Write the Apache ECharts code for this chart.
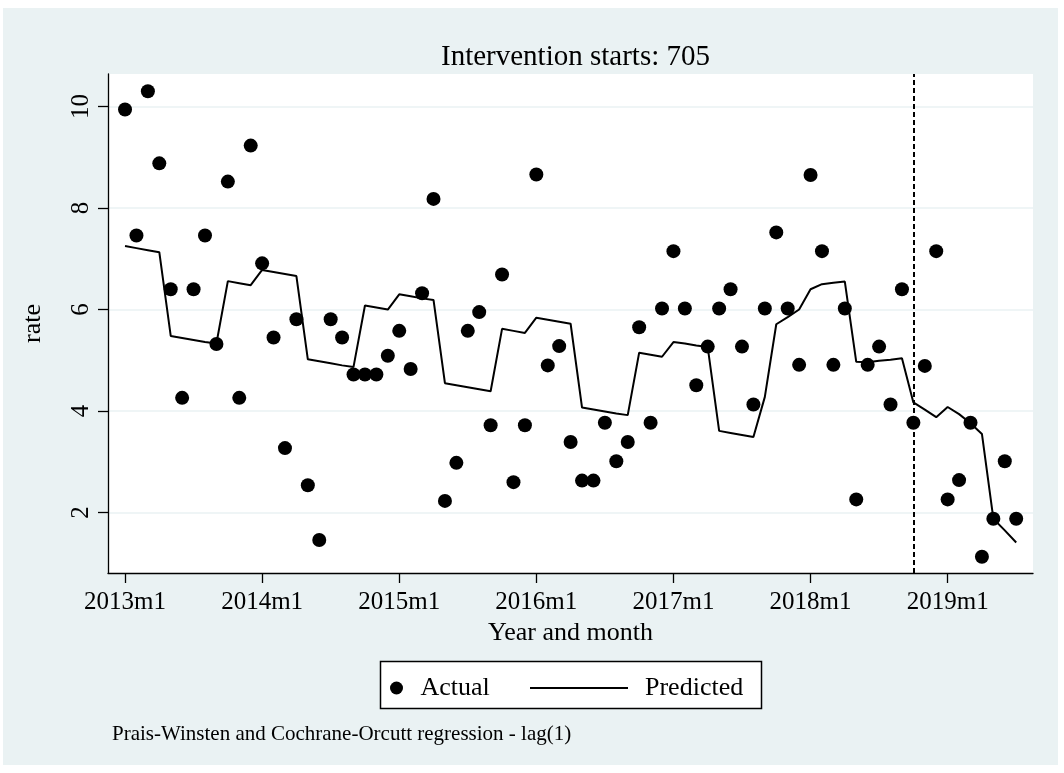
<!DOCTYPE html>
<html>
<head>
<meta charset="utf-8">
<script src="https://cdn.jsdelivr.net/npm/echarts@6/dist/echarts.min.js"></script>
<style>
html,body{margin:0;padding:0;background:#fff;}
#chart{width:1064px;height:773px;}
</style>
</head>
<body>
<div id="chart"></div>
<script>
// Stata monthly time codes (636 = 2013m1 ... 714 = 2019m7)
const periods = [636,637,638,639,640,641,642,643,644,645,646,647,
  648,649,650,651,652,653,654,655,656,657,658,659,
  660,661,662,663,664,665,666,667,668,669,670,671,
  672,673,674,675,676,677,678,679,680,681,682,683,
  684,685,686,687,688,689,690,691,692,693,694,695,
  696,697,698,699,700,701,702,703,704,705,706,707,
  708,709,710,711,712,713,714];

const actual = [9.94,7.46,10.30,8.88,6.40,4.26,6.40,7.46,5.32,8.52,4.26,9.23,
  6.91,5.45,3.27,5.81,2.54,1.46,5.81,5.45,4.72,4.72,4.72,5.09,
  5.58,4.83,6.32,8.18,2.23,2.98,5.58,5.95,3.72,6.69,2.60,3.72,
  8.66,4.90,5.28,3.39,2.63,2.63,3.77,3.01,3.39,5.65,3.77,6.02,
  7.15,6.02,4.51,5.27,6.02,6.40,5.27,4.13,6.02,7.52,6.02,4.91,
  8.65,7.15,4.91,6.02,2.26,4.91,5.27,4.13,6.40,3.77,4.89,7.15,
  2.26,2.64,3.77,1.13,1.88,3.01,1.88];

const predicted = [7.25,7.21,7.17,7.13,5.48,5.44,5.40,5.36,5.33,6.56,6.52,6.48,
  6.78,6.74,6.70,6.66,5.02,4.98,4.94,4.90,4.87,6.08,6.04,6.00,
  6.30,6.26,6.22,6.19,4.55,4.51,4.47,4.43,4.39,5.62,5.58,5.54,
  5.84,5.80,5.76,5.72,4.07,4.03,3.99,3.95,3.92,5.15,5.11,5.07,
  5.36,5.33,5.29,5.26,3.61,3.57,3.53,3.49,4.28,5.71,5.85,6.00,
  6.40,6.50,6.53,6.55,4.97,4.96,4.99,5.01,5.04,4.17,4.03,3.88,
  4.08,3.94,3.76,3.55,1.88,1.65,1.41];

const xTickValues = [636,648,660,672,684,696,708];
const xTickLabels = ['2013m1','2014m1','2015m1','2016m1','2017m1','2018m1','2019m1'];
const yTickValues = [2,4,6,8,10];
const interventionPeriod = 705;

const SERIF = '"Liberation Serif","Times New Roman",Times,serif';
const BG = '#EAF2F3';

const chart = echarts.init(document.getElementById('chart'), null, {renderer:'canvas'});

const option = {
  animation: false,
  backgroundColor: '#ffffff',
  title: {
    text: 'Intervention starts: 705',
    left: 570.5, top: 38, textAlign: 'center',
    textStyle: {fontFamily: SERIF, fontSize: 29, fontWeight: 'normal', color: '#000'}
  },
  grid: {
    left: 108, right: 31, top: 74, bottom: 200,
    show: true, backgroundColor: '#ffffff', borderWidth: 0
  },
  xAxis: {
    type: 'value', min: 634.51, max: 715.47,
    name: 'Year and month', nameLocation: 'middle', nameGap: 44,
    nameTextStyle: {fontFamily: SERIF, fontSize: 26, color: '#000'},
    axisLine: {show: true, onZero: false, lineStyle: {color: '#000', width: 1.3}},
    axisTick: {show: true, customValues: xTickValues, length: 10, lineStyle: {color: '#000', width: 1.3}},
    axisLabel: {
      customValues: xTickValues, margin: 17,
      fontFamily: SERIF, fontSize: 25, color: '#000',
      formatter: v => { const i = xTickValues.indexOf(Math.round(v)); return i >= 0 ? xTickLabels[i] : ''; }
    },
    splitLine: {show: false}
  },
  yAxis: {
    type: 'value', min: 0.81, max: 10.64,
    name: 'rate', nameLocation: 'middle', nameGap: 62, nameRotate: 90,
    nameTextStyle: {fontFamily: SERIF, fontSize: 26, color: '#000'},
    axisLine: {show: true, onZero: false, lineStyle: {color: '#000', width: 1.3}},
    axisTick: {show: true, customValues: yTickValues, length: 10, lineStyle: {color: '#000', width: 1.3}},
    axisLabel: {
      customValues: yTickValues, margin: 14, rotate: 90,
      fontFamily: SERIF, fontSize: 25, color: '#000'
    },
    splitLine: {show: true, lineStyle: {color: BG, width: 1.6}}
  },
  legend: [
    {
      data: ['Actual'], left: 390, top: 675, padding: 0,
      itemWidth: 38, itemHeight: 13, icon: 'circle',
      itemStyle: {opacity: 1},
      textStyle: {fontFamily: SERIF, fontSize: 26, color: '#000'}
    },
    {
      data: [{name: 'Predicted', icon: 'rect'}], left: 530, top: 675, padding: 0,
      itemWidth: 98, itemHeight: 2,
      itemStyle: {color: '#000'},
      textStyle: {fontFamily: SERIF, fontSize: 26, color: '#000', padding: [0,0,0,12]}
    }
  ],
  graphic: [
    {type: 'rect', z: -100, silent: true, shape: {x: 3, y: 8, width: 1055, height: 757}, style: {fill: BG}},
    {type: 'rect', z: -1, silent: true, shape: {x: 380.5, y: 661.5, width: 381, height: 47}, style: {fill: '#fff', stroke: '#000', lineWidth: 1.5}},
    {type: 'text', silent: true, left: 112, top: 724,
      style: {text: 'Prais-Winsten and Cochrane-Orcutt regression - lag(1)', font: '21px ' + SERIF, fill: '#000'}}
  ],
  series: [
    {
      name: 'Actual', type: 'scatter', symbol: 'circle', symbolSize: 14,
      itemStyle: {color: '#000', opacity: 1},
      data: periods.map((p, i) => [p, actual[i]]), z: 3
    },
    {
      name: 'Predicted', type: 'line', symbol: 'none', showSymbol: false,
      lineStyle: {color: '#000', width: 2}, itemStyle: {color: '#000'},
      data: periods.map((p, i) => [p, predicted[i]]), z: 2,
      markLine: {
        silent: true, symbol: ['none', 'none'], label: {show: false},
        lineStyle: {color: '#000', width: 2, type: [5, 3]},
        data: [{xAxis: interventionPeriod}]
      }
    }
  ]
};
chart.setOption(option);
</script>
</body>
</html>
